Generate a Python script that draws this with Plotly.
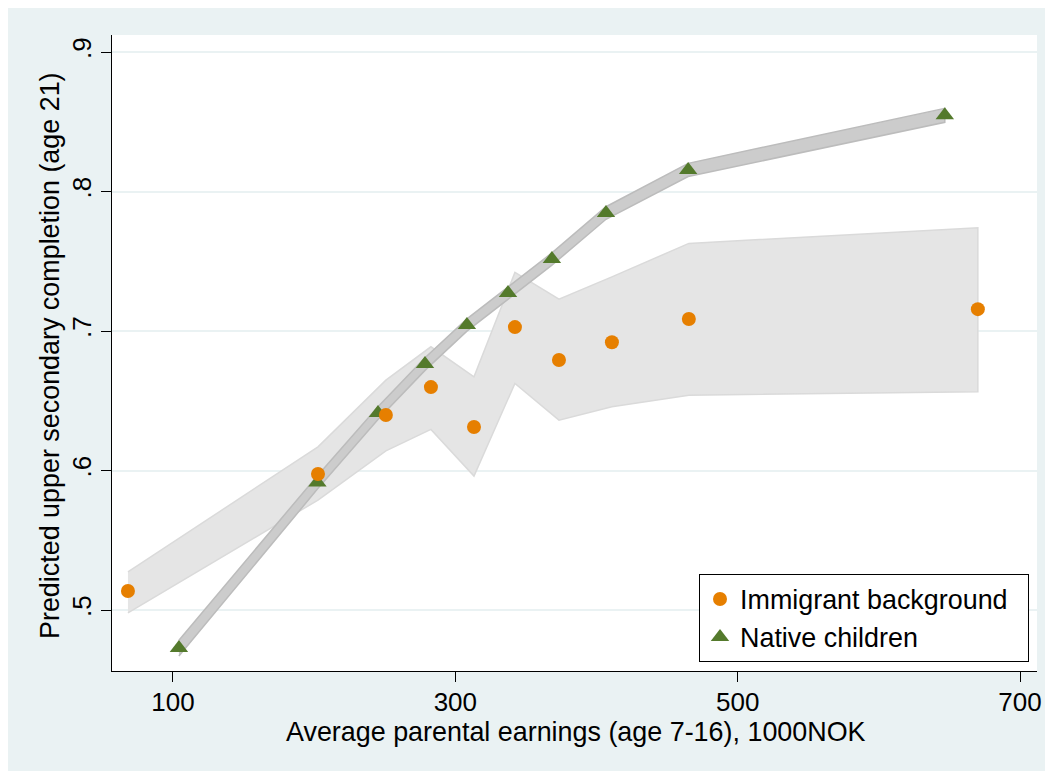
import plotly.graph_objects as go

# ---- data ----
imm_x = [68.1, 202.7, 250.8, 282.7, 313.2, 342.2, 373.4, 410.9, 465.4, 670.1]
imm_y = [0.5136, 0.5975, 0.6398, 0.6598, 0.6312, 0.7028, 0.6792, 0.6920, 0.7086, 0.7157]
imm_lo = [0.4980, 0.5788, 0.6141, 0.6295, 0.5960, 0.6625, 0.6361, 0.6457, 0.6540, 0.6564]
imm_hi = [0.5273, 0.6170, 0.6648, 0.6887, 0.6672, 0.7420, 0.7229, 0.7388, 0.7628, 0.7740]

nat_x = [104.2, 202.3, 245.2, 278.5, 308.2, 337.3, 368.4, 406.7, 464.9, 646.7]
nat_y = [0.4727, 0.5915, 0.6412, 0.6763, 0.7043, 0.7272, 0.7516, 0.7846, 0.8155, 0.8546]
nat_lo = [0.4670, 0.5867, 0.6366, 0.6718, 0.6999, 0.7228, 0.7472, 0.7801, 0.8108, 0.8496]
nat_hi = [0.4784, 0.5963, 0.6458, 0.6808, 0.7087, 0.7316, 0.7560, 0.7891, 0.8202, 0.8596]

y_ticks = [0.5, 0.6, 0.7, 0.8, 0.9]
y_ticklabels = [".5", ".6", ".7", ".8", ".9"]
x_ticks = [100, 300, 500, 700]
x_ticklabels = ["100", "300", "500", "700"]

x_title = "Average parental earnings (age 7-16), 1000NOK"
y_title = "Predicted upper secondary completion (age 21)"
names = ["Immigrant background", "Native children"]

ORANGE = "#E67F00"
GREEN = "#547A2C"
BG = "#EAF2F3"
FONT = "Liberation Sans, Arial, sans-serif"
FS_TICK = 26
FS_TITLE = 26.9
PAD = "\u00a0\u00a0"  # extra room on the right of the legend text

fig = go.Figure()

# immigrant CI band
fig.add_trace(go.Scatter(
    x=imm_x + imm_x[::-1], y=imm_hi + imm_lo[::-1],
    fill="toself", fillcolor="#E5E5E5", mode="lines",
    line=dict(color="#DADADA", width=1.5), showlegend=False, hoverinfo="skip"))

# native CI band
fig.add_trace(go.Scatter(
    x=nat_x + nat_x[::-1], y=nat_hi + nat_lo[::-1],
    fill="toself", fillcolor="#CCCCCC", mode="lines",
    line=dict(color="#BCBCBC", width=1.5), showlegend=False, hoverinfo="skip"))

fig.add_trace(go.Scatter(
    x=nat_x, y=nat_y, mode="markers", name=names[1] + PAD, legendrank=2,
    marker=dict(symbol="triangle-up", size=16, color=GREEN, line=dict(width=0))))

fig.add_trace(go.Scatter(
    x=imm_x, y=imm_y, mode="markers", name=names[0] + PAD, legendrank=1,
    marker=dict(symbol="circle", size=14, color=ORANGE, line=dict(width=0))))

fig.update_layout(
    width=1053, height=771,
    margin=dict(l=104, r=24, t=27, b=108),
    paper_bgcolor=BG, plot_bgcolor="white",
    font=dict(family=FONT, size=FS_TICK, color="black"),
    showlegend=True,
    legend=dict(
        x=0.6346, y=0.0142, xanchor="left", yanchor="bottom",
        bgcolor="white", bordercolor="black", borderwidth=1,
        font=dict(family=FONT, size=FS_TITLE, color="black"),
        itemsizing="trace", tracegroupgap=0),
    xaxis=dict(
        range=[56.8, 712], tickmode="array", tickvals=x_ticks, ticktext=x_ticklabels,
        showgrid=False, zeroline=False, showline=True, linecolor="black", linewidth=1,
        ticks="outside", ticklen=10, tickcolor="black", tickwidth=1,
        ticklabelstandoff=-2,
        tickfont=dict(family=FONT, size=FS_TICK, color="black")),
    yaxis=dict(
        range=[0.4563, 0.9122], tickmode="array", tickvals=y_ticks, ticktext=y_ticklabels,
        showgrid=True, gridcolor=BG, gridwidth=2, zeroline=False,
        showline=True, linecolor="black", linewidth=1,
        ticks="outside", ticklen=10, tickcolor="black", tickwidth=1, tickangle=-90,
        tickfont=dict(family=FONT, size=FS_TICK, color="black")),
    annotations=[
        dict(text=x_title, xref="paper", yref="paper", x=0.5016, y=0,
             xanchor="center", yanchor="middle", yshift=-61, showarrow=False,
             font=dict(family=FONT, size=FS_TITLE, color="black")),
        dict(text=y_title, xref="paper", yref="paper", x=0, y=0.4953,
             xanchor="center", yanchor="middle", xshift=-62, textangle=-90, showarrow=False,
             font=dict(family=FONT, size=FS_TITLE, color="black")),
    ],
)

fig.write_html("out.html")
